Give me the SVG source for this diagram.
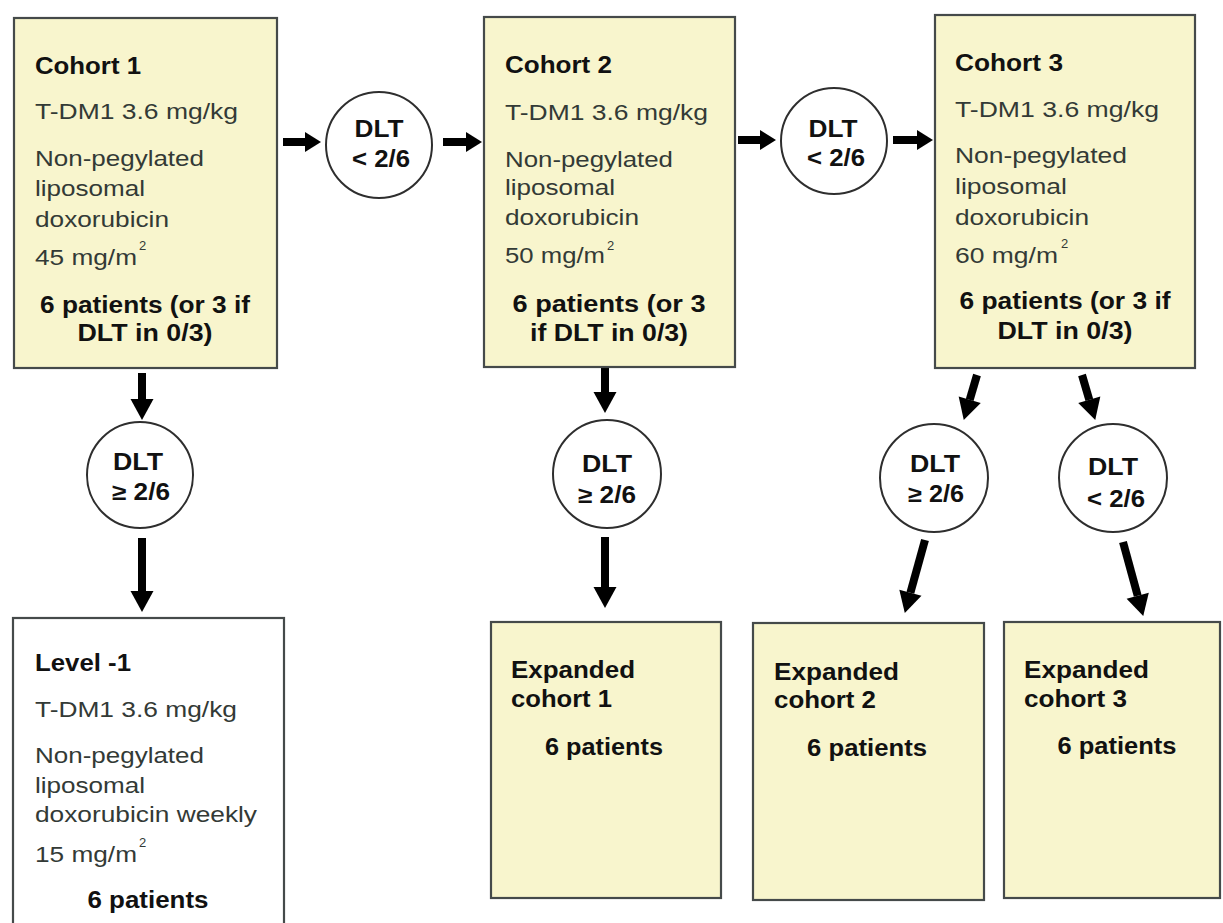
<svg xmlns="http://www.w3.org/2000/svg" width="1223" height="923" viewBox="0 0 1223 923">
<style>
.box{fill:#f8f5cd;stroke:#454a4a;stroke-width:2.2}
.wbox{fill:#ffffff;stroke:#454a4a;stroke-width:2.2}
.circ{fill:#ffffff;stroke:#2e2e2e;stroke-width:2}
text{font-family:"Liberation Sans",Arial,sans-serif;lengthAdjust:spacingAndGlyphs}
.r{font-size:22px;fill:#333a36}
.b{font-size:23px;font-weight:bold;fill:#111111}
.c{text-anchor:middle}
.sup{font-size:13px;fill:#333a36}
.arr{stroke:#000000;stroke-width:8;fill:none}
</style>
<defs>
<marker id="hv" markerUnits="userSpaceOnUse" markerWidth="24" markerHeight="24" refX="0" refY="11.5" orient="auto" overflow="visible">
<path d="M0,0 L21,11.5 L0,23 Z" fill="#000000"/>
</marker>
<marker id="hh" markerUnits="userSpaceOnUse" markerWidth="20" markerHeight="22" refX="0" refY="10" orient="auto" overflow="visible">
<path d="M0,0 L16,10 L0,20 Z" fill="#000000"/>
</marker>
</defs>

<g id="connectors">
<line class="arr" x1="283" y1="142" x2="305" y2="142" marker-end="url(#hh)"/>
<line class="arr" x1="443" y1="142" x2="466" y2="142" marker-end="url(#hh)"/>
<line class="arr" x1="738" y1="140" x2="760" y2="140" marker-end="url(#hh)"/>
<line class="arr" x1="893" y1="140" x2="917" y2="140" marker-end="url(#hh)"/>
<line class="arr" x1="142" y1="373" x2="142" y2="399" marker-end="url(#hv)"/>
<line class="arr" x1="142" y1="538" x2="142" y2="591" marker-end="url(#hv)"/>
<line class="arr" x1="605" y1="368" x2="605" y2="392" marker-end="url(#hv)"/>
<line class="arr" x1="605" y1="537" x2="605" y2="587" marker-end="url(#hv)"/>
<line class="arr" x1="977" y1="375" x2="969.7" y2="399.8" marker-end="url(#hv)"/>
<line class="arr" x1="1082" y1="375" x2="1089.3" y2="399.8" marker-end="url(#hv)"/>
<line class="arr" x1="925" y1="540" x2="910.4" y2="592.7" marker-end="url(#hv)"/>
<line class="arr" x1="1123" y1="542" x2="1137.7" y2="595.7" marker-end="url(#hv)"/>
</g>

<g id="cohort1">
<rect class="box" x="14" y="18" width="263" height="350"/>
<text class="b" x="35" y="74" textLength="106" lengthAdjust="spacingAndGlyphs">Cohort 1</text>
<text class="r" x="35" y="119" textLength="203" lengthAdjust="spacingAndGlyphs">T-DM1 3.6 mg/kg</text>
<text class="r" x="35" y="166" textLength="169" lengthAdjust="spacingAndGlyphs">Non-pegylated</text>
<text class="r" x="35" y="196" textLength="110" lengthAdjust="spacingAndGlyphs">liposomal</text>
<text class="r" x="35" y="227" textLength="134" lengthAdjust="spacingAndGlyphs">doxorubicin</text>
<text class="r" x="35" y="265" textLength="102" lengthAdjust="spacingAndGlyphs">45 mg/m</text>
<text class="sup" x="139" y="250">2</text>
<text class="b c" x="145" y="313" textLength="210" lengthAdjust="spacingAndGlyphs">6 patients (or 3 if</text>
<text class="b c" x="145" y="341" textLength="135" lengthAdjust="spacingAndGlyphs">DLT in 0/3)</text>
</g>

<g id="dlt1">
<circle class="circ" cx="379" cy="145" r="53"/>
<text class="b c" x="379" y="137" textLength="49" lengthAdjust="spacingAndGlyphs">DLT</text>
<text class="b c" x="381" y="167" textLength="58" lengthAdjust="spacingAndGlyphs">&lt; 2/6</text>
</g>

<g id="cohort2">
<rect class="box" x="484" y="17" width="251" height="350"/>
<text class="b" x="505" y="73" textLength="107" lengthAdjust="spacingAndGlyphs">Cohort 2</text>
<text class="r" x="505" y="120" textLength="203" lengthAdjust="spacingAndGlyphs">T-DM1 3.6 mg/kg</text>
<text class="r" x="505" y="167" textLength="168" lengthAdjust="spacingAndGlyphs">Non-pegylated</text>
<text class="r" x="505" y="195" textLength="110" lengthAdjust="spacingAndGlyphs">liposomal</text>
<text class="r" x="505" y="225" textLength="134" lengthAdjust="spacingAndGlyphs">doxorubicin</text>
<text class="r" x="505" y="263" textLength="100" lengthAdjust="spacingAndGlyphs">50 mg/m</text>
<text class="sup" x="607" y="250">2</text>
<text class="b c" x="609" y="312" textLength="193" lengthAdjust="spacingAndGlyphs">6 patients  (or 3</text>
<text class="b c" x="609" y="341" textLength="158" lengthAdjust="spacingAndGlyphs">if DLT in 0/3)</text>
</g>

<g id="dlt2">
<circle class="circ" cx="834" cy="141" r="53"/>
<text class="b c" x="833" y="137" textLength="49" lengthAdjust="spacingAndGlyphs">DLT</text>
<text class="b c" x="836" y="166" textLength="58" lengthAdjust="spacingAndGlyphs">&lt; 2/6</text>
</g>

<g id="cohort3">
<rect class="box" x="935" y="15" width="260" height="353"/>
<text class="b" x="955" y="71" textLength="108" lengthAdjust="spacingAndGlyphs">Cohort 3</text>
<text class="r" x="955" y="117" textLength="204" lengthAdjust="spacingAndGlyphs">T-DM1 3.6 mg/kg</text>
<text class="r" x="955" y="163" textLength="172" lengthAdjust="spacingAndGlyphs">Non-pegylated</text>
<text class="r" x="955" y="194" textLength="112" lengthAdjust="spacingAndGlyphs">liposomal</text>
<text class="r" x="955" y="225" textLength="134" lengthAdjust="spacingAndGlyphs">doxorubicin</text>
<text class="r" x="955" y="263" textLength="103" lengthAdjust="spacingAndGlyphs">60 mg/m</text>
<text class="sup" x="1061" y="248">2</text>
<text class="b c" x="1065" y="309" textLength="211" lengthAdjust="spacingAndGlyphs">6 patients (or 3 if</text>
<text class="b c" x="1065" y="339" textLength="135" lengthAdjust="spacingAndGlyphs">DLT in 0/3)</text>
</g>

<g id="dlt3">
<circle class="circ" cx="140" cy="475" r="53"/>
<text class="b c" x="138" y="470" textLength="50" lengthAdjust="spacingAndGlyphs">DLT</text>
<text class="b c" x="141" y="500" textLength="58" lengthAdjust="spacingAndGlyphs">≥ 2/6</text>
</g>

<g id="dlt4">
<circle class="circ" cx="607" cy="474" r="54"/>
<text class="b c" x="607" y="472" textLength="50" lengthAdjust="spacingAndGlyphs">DLT</text>
<text class="b c" x="607" y="503" textLength="58" lengthAdjust="spacingAndGlyphs">≥ 2/6</text>
</g>

<g id="dlt5">
<circle class="circ" cx="934" cy="478" r="54"/>
<text class="b c" x="935" y="472" textLength="50" lengthAdjust="spacingAndGlyphs">DLT</text>
<text class="b c" x="936" y="502" textLength="56" lengthAdjust="spacingAndGlyphs">≥ 2/6</text>
</g>

<g id="dlt6">
<circle class="circ" cx="1113" cy="478" r="54"/>
<text class="b c" x="1113" y="475" textLength="50" lengthAdjust="spacingAndGlyphs">DLT</text>
<text class="b c" x="1116" y="507" textLength="58" lengthAdjust="spacingAndGlyphs">&lt; 2/6</text>
</g>

<g id="level-1">
<rect class="wbox" x="13" y="618" width="271" height="330"/>
<text class="b" x="35" y="671" textLength="96" lengthAdjust="spacingAndGlyphs">Level -1</text>
<text class="r" x="35" y="717" textLength="202" lengthAdjust="spacingAndGlyphs">T-DM1 3.6 mg/kg</text>
<text class="r" x="35" y="763" textLength="169" lengthAdjust="spacingAndGlyphs">Non-pegylated</text>
<text class="r" x="35" y="793" textLength="110" lengthAdjust="spacingAndGlyphs">liposomal</text>
<text class="r" x="35" y="822" textLength="222" lengthAdjust="spacingAndGlyphs">doxorubicin weekly</text>
<text class="r" x="35" y="862" textLength="102" lengthAdjust="spacingAndGlyphs">15 mg/m</text>
<text class="sup" x="139" y="847">2</text>
<text class="b c" x="148" y="908" textLength="121" lengthAdjust="spacingAndGlyphs">6 patients</text>
</g>

<g id="expanded1">
<rect class="box" x="491" y="622" width="230" height="276"/>
<text class="b" x="511" y="678" textLength="124" lengthAdjust="spacingAndGlyphs">Expanded</text>
<text class="b" x="511" y="707" textLength="101" lengthAdjust="spacingAndGlyphs">cohort 1</text>
<text class="b c" x="604" y="755" textLength="118" lengthAdjust="spacingAndGlyphs">6 patients</text>
</g>

<g id="expanded2">
<rect class="box" x="753" y="623" width="231" height="277"/>
<text class="b" x="774" y="680" textLength="125" lengthAdjust="spacingAndGlyphs">Expanded</text>
<text class="b" x="774" y="708" textLength="102" lengthAdjust="spacingAndGlyphs">cohort 2</text>
<text class="b c" x="867" y="756" textLength="120" lengthAdjust="spacingAndGlyphs">6 patients</text>
</g>

<g id="expanded3">
<rect class="box" x="1004" y="622" width="216" height="276"/>
<text class="b" x="1024" y="678" textLength="125" lengthAdjust="spacingAndGlyphs">Expanded</text>
<text class="b" x="1024" y="707" textLength="103" lengthAdjust="spacingAndGlyphs">cohort 3</text>
<text class="b c" x="1117" y="754" textLength="119" lengthAdjust="spacingAndGlyphs">6 patients</text>
</g>
</svg>
